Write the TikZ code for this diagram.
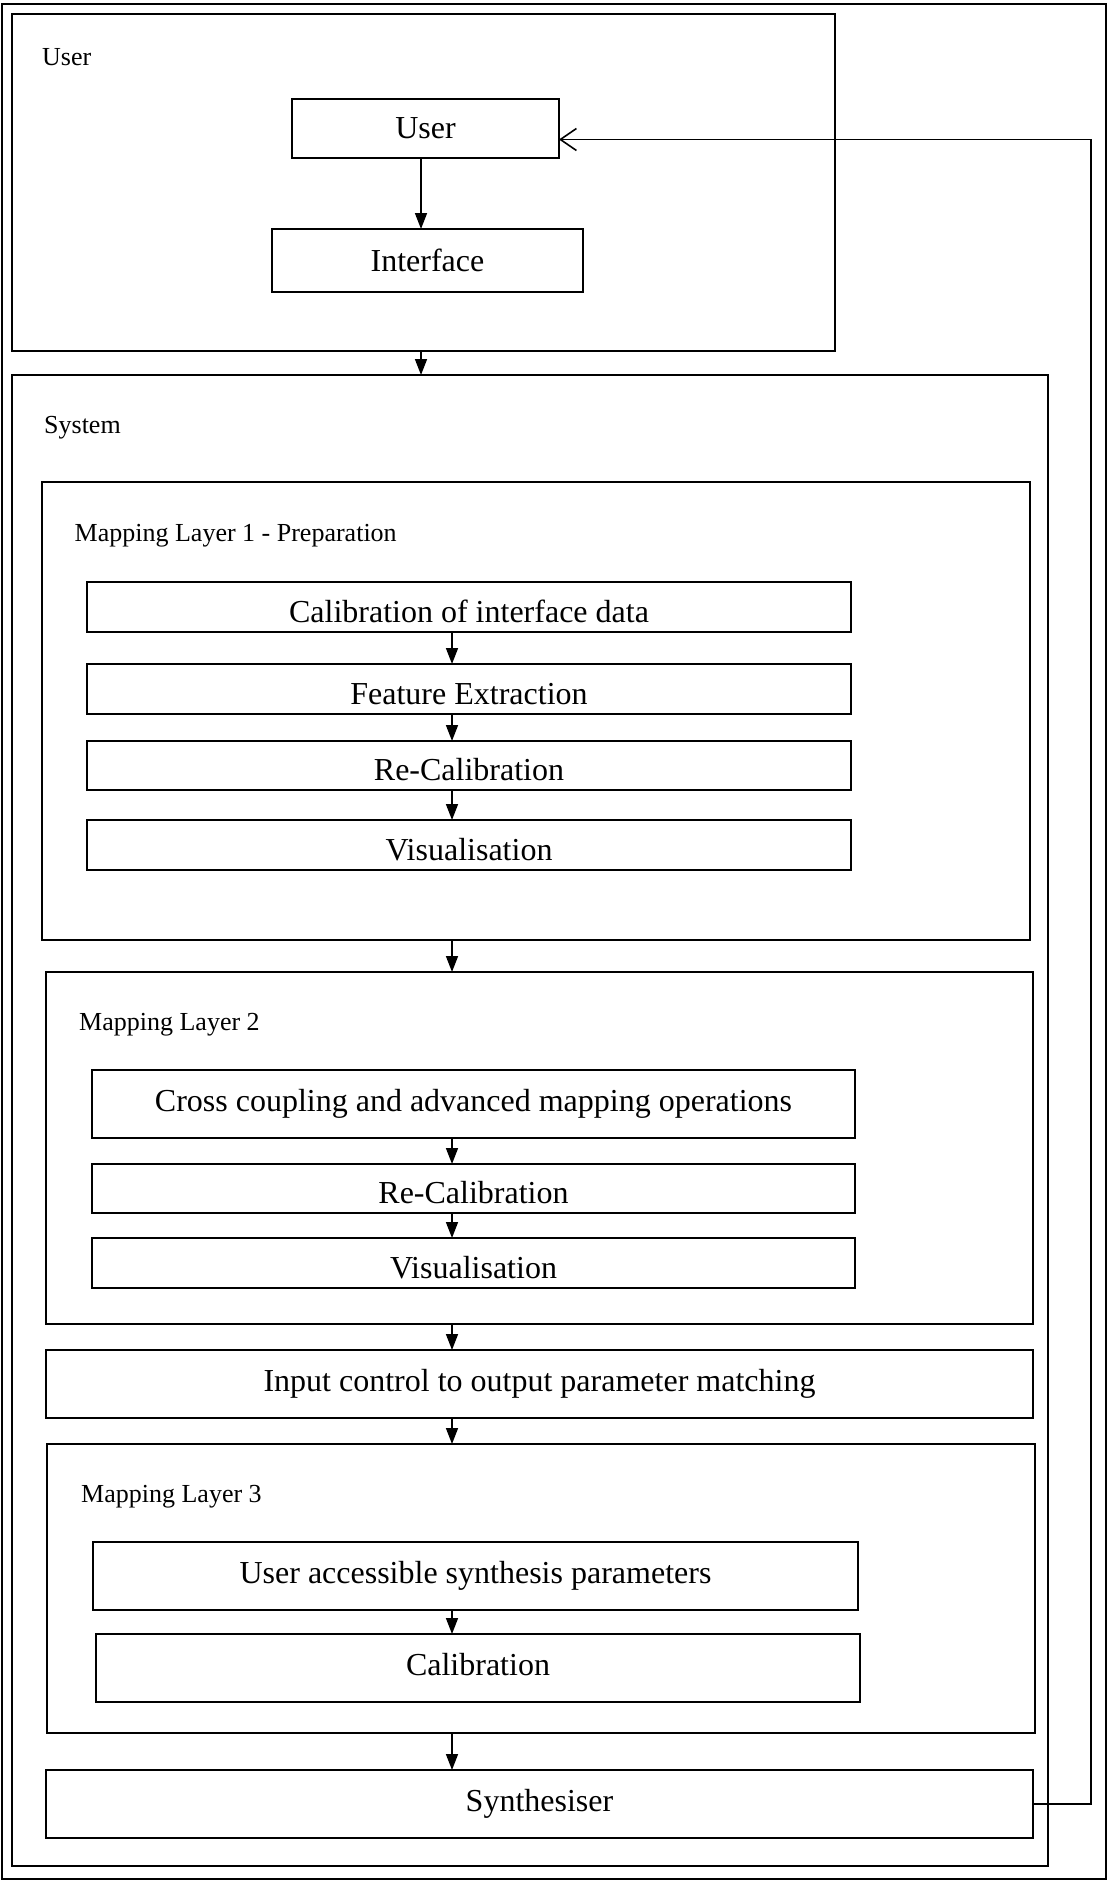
\documentclass[tikz,border=0pt]{standalone}
\usepackage{fontspec}
\setmainfont{Liberation Serif}
\usetikzlibrary{arrows.meta}
\begin{document}
\begin{tikzpicture}[x=1pt,y=-1pt,
  frame/.style={draw, line width=1.8pt, inner sep=0pt, outer sep=0pt},
  box/.style={draw, line width=1.8pt, inner sep=0pt, outer sep=0pt, font=\fontsize{32}{36}\selectfont},
  lowtext/.style={text height=30pt, text depth=0pt},
  hightext/.style={text height=22pt, text depth=7pt},
  lbl/.style={anchor=west, inner sep=0pt, font=\fontsize{26}{30}\selectfont},
  arr/.style={line width=1.6pt, -{Triangle[length=16pt,width=12pt]}},
  fb/.style={line width=1.8pt, -{Straight Barb[length=16pt,width=22pt,line width=1.6pt]}}]
\useasboundingbox (0,0) rectangle (1110,1881);
% containers
\node[frame, minimum width=1104pt, minimum height=1875pt] (outer) at (554,941.5) {};
\node[frame, minimum width=823pt, minimum height=337pt] (userbox) at (423.5,182.5) {};
\node[frame, minimum width=1036pt, minimum height=1491pt] (system) at (530,1120.5) {};
\node[frame, minimum width=988pt, minimum height=458pt] (ml1) at (536,711) {};
\node[frame, minimum width=987pt, minimum height=352pt] (ml2) at (539.5,1148) {};
\node[frame, minimum width=988pt, minimum height=289pt] (ml3) at (541,1588.5) {};
% labels
\node[lbl] (luser) at (42,57) {User};
\node[lbl] (lsys) at (44,428) {System};
\node[lbl] (lml1) at (74.5,536) {Mapping Layer 1 - Preparation};
\node[lbl] (lml2) at (79,1025) {Mapping Layer 2};
\node[lbl] (lml3) at (81,1497) {Mapping Layer 3};
% boxes
\node[box, minimum width=267pt, minimum height=59pt] (usernode) at (425.5,128.5) {User};
\node[box, minimum width=311pt, minimum height=63pt] (interface) at (427.5,260.5) {Interface};
\node[box, lowtext, minimum width=764pt, minimum height=50pt] (cal) at (469,607) {Calibration of interface data};
\node[box, lowtext, minimum width=764pt, minimum height=50pt] (feat) at (469,689) {Feature Extraction};
\node[box, lowtext, minimum width=764pt, minimum height=49pt] (recal1) at (469,765.5) {Re-Calibration};
\node[box, lowtext, minimum width=764pt, minimum height=50pt] (vis1) at (469,845) {Visualisation};
\node[box, minimum width=763pt, minimum height=68pt] (cross) at (473.5,1104) {Cross coupling and advanced mapping operations};
\node[box, lowtext, minimum width=763pt, minimum height=49pt] (recal2) at (473.5,1188.5) {Re-Calibration};
\node[box, lowtext, minimum width=763pt, minimum height=50pt] (vis2) at (473.5,1263) {Visualisation};
\node[box, minimum width=987pt, minimum height=68pt] (input) at (539.5,1384) {Input control to output parameter matching};
\node[box, minimum width=765pt, minimum height=68pt] (uasp) at (475.5,1576) {User accessible synthesis parameters};
\node[box, hightext, minimum width=764pt, minimum height=68pt] (calib) at (478,1668) {Calibration};
\node[box, minimum width=987pt, minimum height=68pt] (synth) at (539.5,1804) {Synthesiser};
% guide coordinates
\coordinate (ax) at (421,0);
\coordinate (bx) at (452,0);
\coordinate (fbx) at (1091,0);
% arrows
\draw[arr] (usernode.south -| ax) -- (interface.north -| ax);
\draw[arr] (userbox.south -| ax) -- (system.north -| ax);
\draw[arr] (cal.south -| bx) -- (feat.north -| bx);
\draw[arr] (feat.south -| bx) -- (recal1.north -| bx);
\draw[arr] (recal1.south -| bx) -- (vis1.north -| bx);
\draw[arr] (ml1.south -| bx) -- (ml2.north -| bx);
\draw[arr] (cross.south -| bx) -- (recal2.north -| bx);
\draw[arr] (recal2.south -| bx) -- (vis2.north -| bx);
\draw[arr] (ml2.south -| bx) -- (input.north -| bx);
\draw[arr] (input.south -| bx) -- (ml3.north -| bx);
\draw[arr] (uasp.south -| bx) -- (calib.north -| bx);
\draw[arr] (ml3.south -| bx) -- (synth.north -| bx);
% feedback
\draw[fb] (synth.east) -- (synth.east -| fbx) |- ([yshift=-11pt]usernode.east);
\end{tikzpicture}
\end{document}
